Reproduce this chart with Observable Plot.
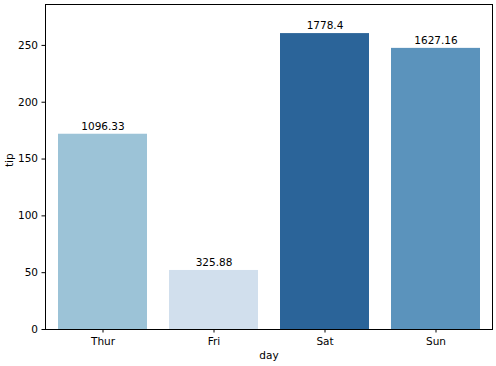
<!DOCTYPE html>
<html>
<head>
<meta charset="utf-8">
<script src="https://cdn.jsdelivr.net/npm/d3@7"></script>
<script src="https://cdn.jsdelivr.net/npm/@observablehq/plot@0.6"></script>
<style>
  html, body { margin: 0; padding: 0; background: #fff; }
  svg { font-family: "DejaVu Sans", sans-serif; }
</style>
</head>
<body>
<div id="chart"></div>
<script>
const days = ["Thur", "Fri", "Sat", "Sun"];
const tips = [171.83, 51.96, 260.4, 247.39];
const billTotals = ["1096.33", "325.88", "1778.4", "1627.16"];
const barColors = ["#9cc3d7", "#d1dfed", "#2b6499", "#5b93bc"];
const yTicks = [0, 50, 100, 150, 200, 250];

const data = days.map((d, i) => ({ day: d, tip: tips[i], label: billTotals[i], color: barColors[i] }));

const chart = Plot.plot({
  width: 496,
  height: 366,
  marginLeft: 45,
  marginRight: 4,
  marginTop: 4,
  marginBottom: 37,
  style: { fontFamily: "DejaVu Sans, sans-serif", fontSize: "10px", color: "#000", background: "#fff" },
  x: { domain: days, paddingInner: 0.2, paddingOuter: 0.1, label: null },
  y: { domain: [0, 286], label: null },
  marks: [
    Plot.barY(data, { x: "day", y: "tip", fill: "color" }),
    Plot.text(data, { x: "day", y: "tip", text: "label", dy: -8, fill: "#000", fontSize: 10.5 }),
    Plot.axisY(yTicks, { tickSize: 3.5, tickPadding: 4, fontSize: 10.5, fill: "#000", stroke: "#000", label: null }),
    Plot.axisX({ tickSize: 3.5, tickPadding: 5, fontSize: 10.5, fill: "#000", stroke: "#000", label: null }),
    Plot.text(["tip"], { frameAnchor: "left", dx: -36, rotate: -90, text: d => d, fontSize: 10.5, fill: "#000" }),
    Plot.text(["day"], { frameAnchor: "bottom", dy: 29, text: d => d, fontSize: 10.5, fill: "#000" }),
    Plot.frame({ stroke: "#000", strokeWidth: 1 })
  ]
});
document.getElementById("chart").appendChild(chart);
</script>
</body>
</html>
